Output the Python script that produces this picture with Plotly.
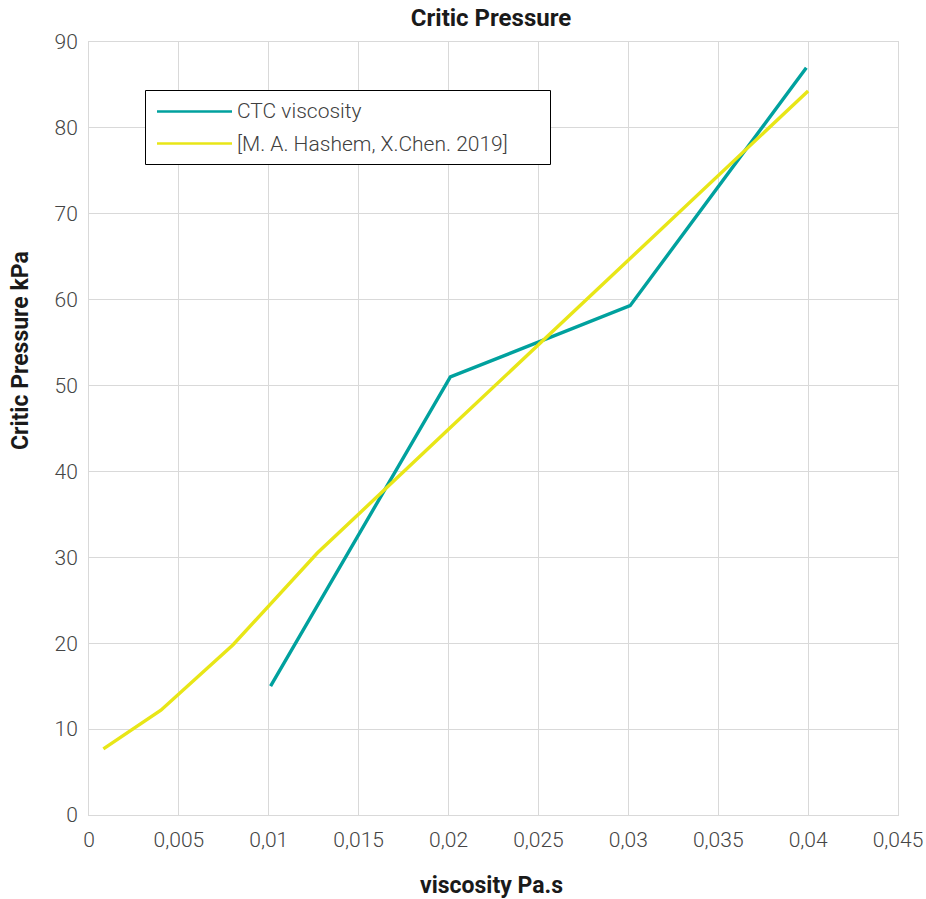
import plotly.graph_objects as go

ctc_x = [0.0101, 0.0201, 0.0301, 0.0399]
ctc_y = [15.0, 51.0, 59.3, 87.0]

ref_x = [0.0008, 0.004, 0.008, 0.0127, 0.02, 0.03, 0.04]
ref_y = [7.7, 12.2, 19.8, 30.5, 44.9, 64.6, 84.3]

x_ticks = [0, 0.005, 0.01, 0.015, 0.02, 0.025, 0.03, 0.035, 0.04, 0.045]
x_tick_text = ["0", "0,005", "0,01", "0,015", "0,02", "0,025", "0,03", "0,035", "0,04", "0,045"]
y_ticks = [0, 10, 20, 30, 40, 50, 60, 70, 80, 90]

series_names = ["CTC viscosity", "[M. A. Hashem, X.Chen. 2019]"]
colors = ["#00A19E", "#E8E617"]

W, H = 926, 899
ml, mr, mt, mb = 89, 28, 42, 84

fig = go.Figure()
fig.add_trace(go.Scatter(x=ctc_x, y=ctc_y, mode="lines", name=series_names[0],
                         line=dict(color=colors[0], width=3.4), showlegend=False))
fig.add_trace(go.Scatter(x=ref_x, y=ref_y, mode="lines", name=series_names[1],
                         line=dict(color=colors[1], width=3.4), showlegend=False))

pw = W - ml - mr
ph = H - mt - mb
def px2x(p):
    return (p - ml) / pw
def py2y(p):
    return (H - mb - p) / ph

shapes = [
    dict(type="rect", xref="paper", yref="paper",
         x0=px2x(145.5), x1=px2x(550.5), y0=py2y(164.5), y1=py2y(90.5),
         line=dict(color="#000000", width=1), fillcolor="white", layer="above"),
]
annotations = []
for i, (name, col) in enumerate(zip(series_names, colors)):
    yy = [111.5, 143.5][i]
    shapes.append(dict(type="line", xref="paper", yref="paper",
                       x0=px2x(157), x1=px2x(232), y0=py2y(yy), y1=py2y(yy),
                       line=dict(color=col, width=2.5), layer="above"))
    annotations.append(dict(xref="paper", yref="paper", x=px2x(235), y=py2y(yy),
                            xanchor="left", yanchor="middle", showarrow=False,
                            text=name, font=dict(family="Roboto", size=21, weight=300, color="#404040")))

title_font = dict(family="Roboto", size=23, weight=700, color="#1a1a1a")
annotations.append(dict(xref="paper", yref="paper", x=px2x(491), y=py2y(885),
                        xanchor="center", yanchor="middle", showarrow=False,
                        text="viscosity Pa.s", font=title_font))
annotations.append(dict(xref="paper", yref="paper", x=px2x(20), y=py2y(351),
                        xanchor="center", yanchor="middle", showarrow=False, textangle=-90,
                        text="Critic Pressure kPa", font=title_font))

tick_font = dict(family="Roboto", size=21, weight=300, color="#454545")

fig.update_layout(
    width=W, height=H,
    margin=dict(l=ml, r=mr, t=mt, b=mb),
    paper_bgcolor="white", plot_bgcolor="white",
    title=dict(text="Critic Pressure", x=px2x(491), xref="paper", xanchor="center",
               y=1 - 18 / H, yanchor="middle",
               font=dict(family="Roboto", size=24, weight=700, color="#1a1a1a")),
    xaxis=dict(range=[0, 0.045], tickvals=x_ticks, ticktext=x_tick_text,
               showgrid=True, gridcolor="#D9D9D9", gridwidth=1, automargin=False,
               showline=True, linecolor="#D9D9D9", mirror=True, zeroline=False,
               ticks="", ticklabelstandoff=6, tickfont=tick_font),
    yaxis=dict(range=[0, 90], tickvals=y_ticks, automargin=False,
               showgrid=True, gridcolor="#D9D9D9", gridwidth=1,
               showline=True, linecolor="#D9D9D9", mirror=True, zeroline=False,
               ticks="", ticklabelstandoff=6, tickfont=tick_font),
    shapes=shapes, annotations=annotations,
    showlegend=False,
)

fig.write_html("out.html")
